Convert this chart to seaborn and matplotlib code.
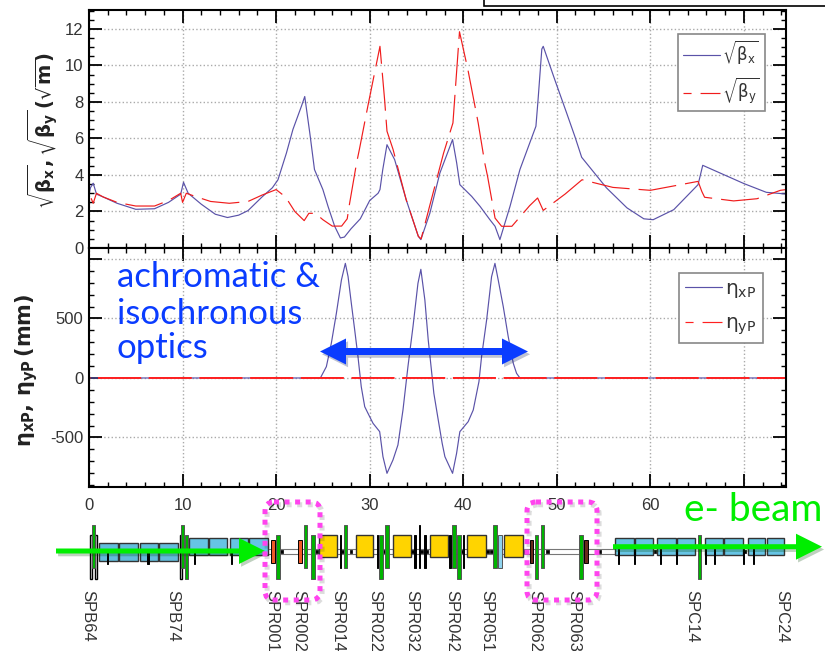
"""
plot.py - beam optics functions above a lattice layout strip.
"""

import matplotlib
matplotlib.use("Agg")
import matplotlib.pyplot as plt
import matplotlib.patheffects as pe
from matplotlib.patches import FancyArrow, FancyBboxPatch, Rectangle
from matplotlib.ticker import MultipleLocator
import seaborn as sns

# sqrt(beta_x) and sqrt(beta_y)
s_bx = [0, 0.15, 0.45, 0.8, 1.5, 3, 5, 7, 8.5, 9.8, 10.1, 10.6, 12, 13.5, 14.8, 16, 17, 18.5,
        19.6, 20.2, 21.1, 21.8, 22.7, 23.06, 23.6, 24.1, 25, 25.55, 26.26, 26.87, 27.3, 28, 29, 30,
        30.9, 31.1, 31.4, 31.85, 32.67, 33.9, 35.2, 35.47, 36.43, 37.5, 38.86, 39.3, 39.64,
        40.9, 41.8, 42.85, 43.4, 43.92, 45, 46.06, 47.77, 48, 48.4, 48.55,
        49.8, 51.05, 51.94, 52.66, 55.3, 57.5, 59.3, 60.3, 62.5, 65.1, 65.6, 70, 72.4, 74.5]
beta_x = [2.9, 3.3, 3.55, 2.95, 2.8, 2.45, 2.12, 2.15, 2.5, 2.95, 3.6, 3.0, 2.4, 1.85, 1.67, 1.8,
          2.05, 2.8, 3.3, 3.74, 5.2, 6.5, 7.76, 8.3, 6.3, 4.3, 3.2, 2.28, 1.19, 0.55, 0.6, 1.05, 1.6,
          2.6, 3.0, 3.2, 4.3, 5.66, 4.84, 2.65, 0.64, 0.46, 1.9, 4.1, 5.94, 4.66, 3.47,
          2.83, 2.28, 1.55, 1.19, 0.46, 2.28, 4.3, 6.67, 8.13, 10.9, 11.05,
          9.2, 7.4, 6.1, 4.97, 3.3, 2.2, 1.6, 1.55, 2.1, 3.47, 4.53, 3.53, 3.05, 2.96]
s_by = [0, 0.45, 0.8, 1.5, 3, 5, 7, 8.5, 9.8, 10, 10.4, 11.5, 13, 15, 17, 18.5, 20, 21, 22, 23,
        23.5, 24.2, 25, 26, 27, 27.6, 27.8, 28.6, 28.9, 29.8, 31.1, 31.6, 31.85, 32.5, 33.9, 35.2,
        35.5, 36.4, 37.9, 38.9, 39.6, 40.5, 41.6, 42.3, 42.6, 43.4, 44.1, 45.2, 47.1, 47.95,
        48.55, 50.9, 52.7, 56, 60, 65.1, 65.5, 65.8, 68.9, 71.4, 73.9, 74.5]
beta_y = [3.0, 2.45, 3.0, 2.8, 2.5, 2.3, 2.3, 2.6, 3.0, 2.5, 3.0, 2.8, 2.55, 2.45, 2.55, 2.9, 3.2,
          2.8, 2.0, 1.5, 1.9, 1.9, 1.55, 1.2, 1.2, 1.6, 2.28, 4.66, 5.4, 7.76, 11.05, 8.1, 6.4, 5.4,
          2.65, 0.64, 0.5, 2.28, 5.2, 6.85, 11.85, 9.77, 6.85, 4.66, 3.93, 1.64, 1.19, 1.19,
          2.32, 2.74, 2.06, 2.96, 3.74, 3.32, 3.16, 3.65, 3.1, 2.78, 2.58, 2.7, 3.16, 3.2]

# dispersion
s_eta = [0, 24.73, 25.37, 25.9, 26.44, 26.98, 27.4, 27.69, 28.04, 28.4, 28.75, 29.1, 29.47, 29.82,
         30.36, 31.07, 31.42, 31.85, 32.49, 33.02, 33.56, 34.09, 34.63, 35.16, 35.47, 35.9, 36.26,
         36.6, 36.86, 37.33, 37.75, 38.04, 38.86, 39.29, 39.64, 40.53, 41.07, 41.68, 41.96, 42.5,
         43.03, 43.39, 43.74, 44.28, 44.81, 45.35, 45.7, 46.06, 74.5]
eta_x = [0, 0, 95, 291, 543, 823, 963, 852, 627, 403, 179, -73, -241, -297,
         -381, -451, -661, -801, -689, -563, -269, 95, 431, 795, 913, 655, 319,
         67, -129, -353, -549, -661, -801, -633, -451, -367, -269, -31, 179, 487,
         851, 963, 823, 599, 347, 123, 39, 0, 0]
s_eta_y = [0, 74.5]
eta_y = [0, 0]
x_ticks = [0, 10, 20, 30, 40, 50, 60, 70]
x_labels = ["0", "10", "20", "30", "40", "50", "60", ""]

# lattice elements (s positions in m)
dipole_low = [(1.1, 3.1), (3.2, 5.2), (5.45, 7.4), (7.5, 9.5)]
dipole_high = [(10.7, 12.7), (12.8, 14.7), (15.05, 17), (17.1, 19.1), (56.2, 58.2), (58.4, 60.25),
               (60.7, 62.7), (62.8, 64.8), (65.85, 67.75), (67.9, 69.9), (70.4, 72.3), (72.5, 74.3)]
dipole_yellow = [(24.6, 26.46), (28.5, 30.4), (32.45, 34.4), (36.5, 38.4), (40.45, 42.4), (44.4, 46.35)]
quad_up = [0.45, 10.0, 23.15, 27.45, 31.85, 39.0, 43.4, 48.47]
quad_down = [10.4, 20.2, 23.93, 31.2, 39.56, 47.83, 52.6, 65.25]
corr_long = [0.2, 0.75, 9.8]
corr_short = [26.85, 30.8, 34.83, 35.9, 38.6, 40.06]
corr_up = [35.3]
corr_small = [2.0, 6.3, 11.3, 15.2, 56.6, 58.3, 61.1, 62.8, 65.9, 66.9, 70.0, 71.0]
sext_orange = [19.7, 22.55]
sext_dark = [47.3, 53.1]
light_quad = [43.95]
pipe_black = [20.6, 24.3, 27.1, 28.0, 31.6, 34.6, 35.5, 36.1, 38.9, 39.9, 42.6, 43.0, 46.6, 49.0,
              54.6, 60.5, 65.3, 70.1]
bpm_names = ["SPB64", "SPB74", "SPR001", "SPR002", "SPR014", "SPR022", "SPR032",
             "SPR042", "SPR051", "SPR062", "SPR063", "SPC14", "SPC24"]
bpm_s = [0.2, 9.3, 19.8, 22.7, 26.9, 30.8, 34.8, 39.1, 42.85, 47.9, 52.1, 64.7, 74.3]

W, H = 825, 651
LEFT, RIGHT = 89, 786
BLUE_LINE = "#5a52a8"
RED_LINE = "#f01c1c"
TEXT = "#333333"
DASH = (30, (27.4, 6.5))
DASH_ZERO = (30, (31, 5.5))
DASH_LEG = (21.6, (27.4, 6.5))

sns.set_theme(style="white")
plt.rcParams["font.family"] = ["Liberation Sans", "DejaVu Sans"]
plt.rcParams["mathtext.fontset"] = "dejavusans"
plt.rcParams["lines.scale_dashes"] = False


def px_axes(fig, top, bottom, left=LEFT, right=RIGHT):
    return fig.add_axes([left / W, 1 - bottom / H, (right - left) / W, (bottom - top) / H])


def style_panel(ax, ymajor, yminor):
    ax.set_xlim(0, 74.5)
    ax.xaxis.set_major_locator(MultipleLocator(10))
    ax.xaxis.set_minor_locator(MultipleLocator(2))
    ax.yaxis.set_major_locator(MultipleLocator(ymajor))
    ax.yaxis.set_minor_locator(MultipleLocator(yminor))
    ax.tick_params(which="major", direction="in", length=9.5, width=1.3, top=True, right=True,
                   left=True, bottom=True, labelsize=12, labelcolor=TEXT, color="black", pad=4)
    ax.tick_params(which="minor", direction="in", length=3.5, width=1.0, top=True, right=True,
                   left=True, bottom=True, color="black")
    ax.grid(which="major", ls=":", color="#aaaaaa", lw=1.0)
    ax.set_axisbelow(True)
    for sp in ax.spines.values():
        sp.set_color("black")
        sp.set_linewidth(1.5)


def add_legend(ax, x, y, size, hlen, spacing):
    leg = ax.legend(loc="upper left", bbox_to_anchor=(x, y), borderaxespad=0, fontsize=size,
                    frameon=True, fancybox=False, edgecolor="#888888", framealpha=1,
                    handlelength=hlen, handletextpad=0.15, labelspacing=spacing, borderpad=0.3,
                    labelcolor=TEXT)
    leg.get_frame().set_linewidth(1.2)
    leg.get_lines()[1].set_linestyle(DASH_LEG)


def draw_line(ax, x, y, color, label, ls="-", lw=0.85):
    sns.lineplot(x=x, y=y, ax=ax, color=color, lw=lw, sort=False, estimator=None,
                 linestyle=ls, label=label)


fig = plt.figure(figsize=(W / 100, H / 100), dpi=100, facecolor="white")

# top panel
ax1 = px_axes(fig, 10, 248)
draw_line(ax1, s_bx, beta_x, BLUE_LINE, r"$\sqrt{\mathrm{\beta_x}}$")
draw_line(ax1, s_by, beta_y, RED_LINE, r"$\sqrt{\mathrm{\beta_y}}$", ls=DASH)
ax1.set_ylim(0, 13.04)
style_panel(ax1, 2, 0.5)
ax1.tick_params(axis="x", which="both", labelbottom=False)
ax1.set_xlabel("")
add_legend(ax1, (678 - LEFT) / (RIGHT - LEFT), 1 - (34 - 10) / 238, 12, 2.2, 0.55)

# lower panel
ax2 = px_axes(fig, 248, 487)
draw_line(ax2, s_eta, eta_x, BLUE_LINE, r"$\mathrm{\eta_{xP}}$")
draw_line(ax2, s_eta_y, eta_y, "#ff2020", r"$\mathrm{\eta_{yP}}$", ls=DASH_ZERO, lw=1.4)
ax2.lines[-1].set_snap(False)
ax2.set_ylim(-916, 1092)
style_panel(ax2, 500, 100)
ax2.set_yticks([-500, 0, 500, 1000])
ax2.set_yticklabels(["-500", "0", "500", ""])
ax2.set_xticks(x_ticks)
ax2.set_xticklabels(x_labels)
ax2.tick_params(axis="x", which="major", pad=8)
add_legend(ax2, (679 - LEFT) / (RIGHT - LEFT), 1 - (273 - 248) / 239, 14.5, 1.85, 0.7)
ax2.get_legend().get_lines()[1].set_linewidth(0.85)

# lattice strip, y in pixels around the beam line
CY = 551.7
ax3 = px_axes(fig, 500, 651)
ax3.set_xlim(0, 74.5)
ax3.set_ylim(CY - 651, CY - 500)
ax3.axis("off")
ax3.patch.set_alpha(0)


def bars(xs, low, high, width, color, edge="#222222", lw=0.7, z=3):
    ax3.bar(xs, [high - low] * len(xs), bottom=low, width=width, color=color, edgecolor=edge,
            linewidth=lw, zorder=z, clip_on=False)


def spans(items, low, high, color, z=2):
    ax3.bar([a for a, b in items], [high - low] * len(items), bottom=low,
            width=[b - a for a, b in items], align="edge", color=color, edgecolor="#333333",
            linewidth=1.0, zorder=z, clip_on=False)


ax3.bar([19], [4.6], bottom=-2.3, width=[38], align="edge", color="white", edgecolor="#777777",
        linewidth=0.8, zorder=1)
spans(dipole_low, -9, 8.4, "#62bcdc")
spans(dipole_high, -3.3, 13.6, "#66c4e4")
spans(dipole_yellow, -5.7, 16.7, "#ffd400")
bars(pipe_black, -1.6, 1.6, 0.3, "black", z=2)
bars(corr_small, -12, 3, 0.12, "black", edge="black", z=4)
bars(corr_long, -27.7, 16.7, 0.18, "white", edge="black", lw=1.0)
bars(corr_short, -16.7, 16.7, 0.14, "black", edge="black")
bars(corr_up, -16.7, 26.7, 0.14, "black", edge="black")
bars(quad_up, -16.7, 26.7, 0.36, "#00b400", edge="#555555")
bars(quad_down, -27.7, 16.7, 0.36, "#00b400", edge="#555555")
bars(sext_orange, -11.7, 11.7, 0.42, "#f05a28", edge="black")
bars(sext_dark, -11.7, 11.7, 0.42, "#6a2a1a", edge="black")
bars(light_quad, -16.7, 16.7, 0.36, "#8fd3ee", edge="#555555")

# element names hang below the strip and run off the page
for name, s in zip(bpm_names, bpm_s):
    ax3.text(s - 0.3, CY - 590, name, rotation=-90, ha="center", va="top", fontsize=12, color=TEXT,
             clip_on=False)

# overlay in pixel coordinates for the slide annotations
ov = fig.add_axes([0, 0, 1, 1])
ov.set_xlim(0, W)
ov.set_ylim(H, 0)
ov.axis("off")
ov.patch.set_alpha(0)

fig.text(27 / W, 1 - 370 / H, r"$\mathbf{\eta_{xP},\,\eta_{yP}\,(mm)}$", rotation=90, ha="center",
         va="center", fontsize=15, color="#222222")
fig.text(43 / W, 1 - 131 / H, r"$\mathbf{\sqrt{\beta_x},\sqrt{\beta_y}\,(\sqrt{m})}$", rotation=90,
         ha="center", va="center", fontsize=14, color="#222222")

ov.add_patch(Rectangle((484, -10), 400, 16, facecolor="white", edgecolor="black", lw=1.2))

shadow = [pe.SimplePatchShadow(offset=(1.5, -2), alpha=0.25), pe.Normal()]


def arrow(x0, x1, y, color, width, head):
    ov.add_patch(FancyArrow(x0, y, x1 - x0, 0, width=width, head_width=head, head_length=head,
                            length_includes_head=True, color=color, lw=0, path_effects=shadow))


for x0, x1 in [(424, 320), (424, 528)]:
    arrow(x0, x1, 351.5, "#0a3cff", 7, 26)
arrow(56, 265, 551, "#00ee00", 5, 26)
arrow(613, 822, 546.7, "#00ee00", 5, 26)

for x0, x1 in [(265, 320), (527, 597)]:
    ov.add_patch(FancyBboxPatch((x0, 502), x1 - x0, 98, boxstyle="round,pad=0,rounding_size=9",
                                fill=False, edgecolor="#ff44ee", lw=3.6, ls=(0, (3.6, 4)),
                                path_effects=[pe.SimpleLineShadow(offset=(1.5, -2), alpha=0.15),
                                              pe.Normal()]))

ov.text(117, 277, "achromatic &", family="Lato", fontsize=25, color="#0a3cff", va="center")
ov.text(117, 314, "isochronous", family="Lato", fontsize=25, color="#0a3cff", va="center")
ov.text(117, 348, "optics", family="Lato", fontsize=25, color="#0a3cff", va="center")
ov.text(684, 510, "e- beam", family="Lato", fontsize=28, color="#00ee00", va="center")

fig.savefig("out.png", dpi=100)
plt.close(fig)
